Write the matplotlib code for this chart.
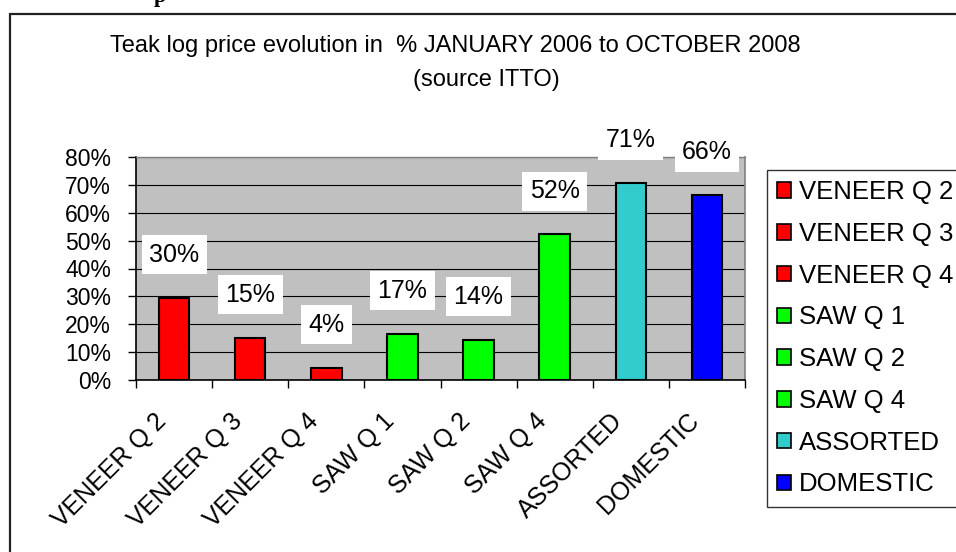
"""
Teak log price evolution chart (ITTO source), Excel-style bar chart.
"""

import matplotlib.pyplot as plt
from matplotlib.patches import Patch, Rectangle
from matplotlib.transforms import ScaledTranslation

plt.rcParams["font.family"] = ["Liberation Sans", "DejaVu Sans"]

# data
categories = [
    "VENEER Q 2", "VENEER Q 3", "VENEER Q 4", "SAW Q 1",
    "SAW Q 2", "SAW Q 4", "ASSORTED", "DOMESTIC",
]
values = [29.5, 15.2, 4.3, 16.6, 14.4, 52.3, 70.6, 66.2]
value_labels = ["30%", "15%", "4%", "17%", "14%", "52%", "71%", "66%"]
bar_colors = [
    "#FF0000", "#FF0000", "#FF0000", "#00FF00",
    "#00FF00", "#00FF00", "#33CCCC", "#0000FF",
]
y_ticks = [0, 10, 20, 30, 40, 50, 60, 70, 80]
y_tick_labels = ["0%", "10%", "20%", "30%", "40%", "50%", "60%", "70%", "80%"]

W, H = 956, 552
fig = plt.figure(figsize=(W / 100, H / 100), dpi=100)
fig.patch.set_facecolor("white")

# outer chart border (cropped on the right and bottom)
fig.add_artist(Rectangle((10 / W, -0.1), 1.2, 1.1 - 14 / H,
                         transform=fig.transFigure, fill=False,
                         edgecolor="#222222", linewidth=1.6))

# fragment of bold heading above the chart
fig.text(160 / W, 1 - 2 / H, "p", fontsize=16, fontweight="bold",
         family="Liberation Serif", ha="center", va="baseline")

ax = fig.add_axes([136 / W, 1 - 380 / H, (745 - 136) / W, (380 - 157) / H])
ax.set_facecolor("#C0C0C0")

x = list(range(len(categories)))
ax.bar(x, values, width=0.4, color=bar_colors, edgecolor="black",
       linewidth=1.5, zorder=3)

for xi, v, lab in zip(x, values, value_labels):
    ax.annotate(lab, (xi, v), xytext=(0, 31), textcoords="offset points",
                ha="center", va="center", fontsize=18, zorder=5,
                annotation_clip=False,
                bbox=dict(boxstyle="square,pad=0.3", facecolor="white",
                          edgecolor="none"))

ax.set_xlim(-0.5, len(categories) - 0.5)
ax.set_ylim(0, 80)
ax.set_yticks(y_ticks)
ax.set_yticklabels(y_tick_labels, fontsize=16.5)
ax.yaxis.grid(True, color="black", linewidth=0.8, zorder=1)
ax.set_axisbelow(True)
ax.tick_params(axis="y", length=6, width=1, pad=12)

ax.set_xticks(x)
ax.set_xticklabels(categories, fontsize=18, rotation=45, ha="right",
                   va="center", rotation_mode="anchor")
ax.set_xticks([i + 0.5 for i in range(-1, len(categories))], minor=True)
ax.tick_params(axis="x", which="major", length=0, pad=24)
ax.tick_params(axis="x", which="minor", length=6, width=1)

# nudge the rotated labels so their ends sit a bit left of the bar centres
shift = ScaledTranslation(-12 / 100, -4 / 100, fig.dpi_scale_trans)
for lbl in ax.get_xticklabels():
    lbl.set_transform(lbl.get_transform() + shift)

for side in ["left", "bottom"]:
    ax.spines[side].set_color("black")
    ax.spines[side].set_linewidth(1.2)
ax.spines["right"].set_color("#808080")
ax.spines["right"].set_linewidth(1.2)
ax.spines["top"].set_color("#808080")
ax.spines["top"].set_linewidth(1.0)

handles = [Patch(facecolor=c, edgecolor="black", linewidth=1.2)
           for c in bar_colors]
leg = fig.legend(handles, categories, loc="upper left",
                 bbox_to_anchor=(767 / W, 1 - 170 / H), fontsize=18.5,
                 frameon=True, fancybox=False, handlelength=0.55,
                 handleheight=0.55, handletextpad=0.3, labelspacing=0.69,
                 borderpad=0.4, borderaxespad=0)
leg.get_frame().set_edgecolor("black")
leg.get_frame().set_linewidth(1.0)

fig.text(455 / W, 1 - 46 / H,
         "Teak log price evolution in  % JANUARY 2006 to OCTOBER 2008",
         fontsize=17, ha="center", va="center")
fig.text(486 / W, 1 - 80 / H, "(source ITTO)", fontsize=17,
         ha="center", va="center")

fig.savefig("out.png", dpi=100)
